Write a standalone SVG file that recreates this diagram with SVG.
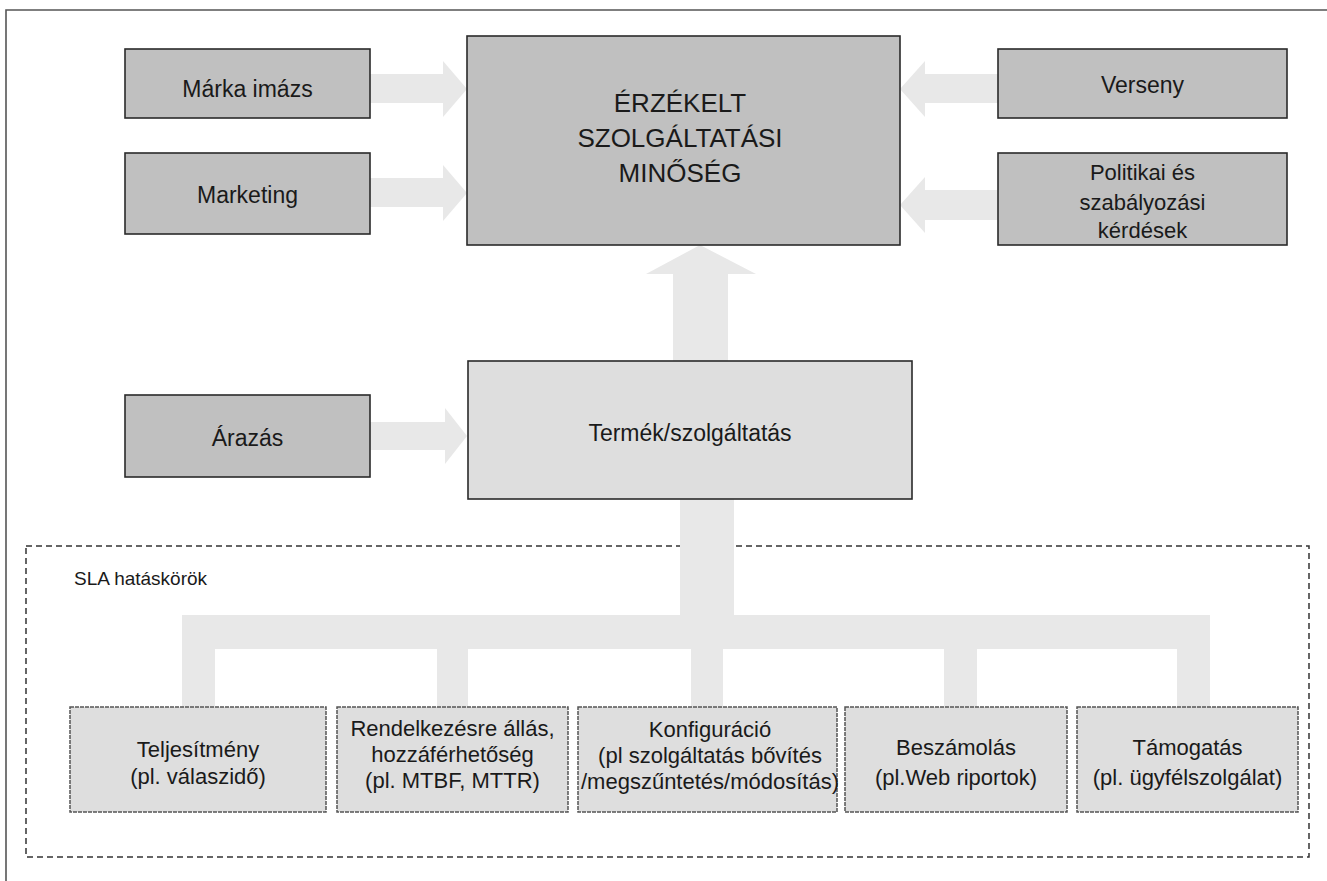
<svg xmlns="http://www.w3.org/2000/svg" width="1327" height="881" viewBox="0 0 1327 881">
<style>
text{font-family:"Liberation Sans",Arial,sans-serif;fill:#1a1a1a;text-anchor:middle}
.dark{fill:#c0c0c0;stroke:#2a2a2a;stroke-width:1.6}
.light{fill:#dedede;stroke:#2a2a2a;stroke-width:1.6}
.sla{fill:#dedede;stroke:#555;stroke-width:1.5;stroke-dasharray:4 1}
.arr{fill:#e8e8e8;stroke:none}
.t23{font-size:23px}
.t22{font-size:22px}
</style>
<rect width="1327" height="881" fill="#fff"/>
<path d="M6,881 V10 H1327" fill="none" stroke="#555" stroke-width="1.6"/>
<rect id="sla-scope" x="26" y="546" width="1283" height="311" fill="none" stroke="#333" stroke-width="1.5" stroke-dasharray="6 4"/>
<text x="74" y="585" style="font-size:19px;text-anchor:start">SLA hatáskörök</text>
<g id="connectors">
<polygon class="arr" points="370,74 443,74 443,61 467,89 443,117 443,103 370,103"/>
<polygon class="arr" points="370,178 443,178 443,165 467,193 443,221 443,207 370,207"/>
<polygon class="arr" points="998,74 925,74 925,61 900,89 925,117 925,103 998,103"/>
<polygon class="arr" points="998,190 925,190 925,177 900,205 925,233 925,220 998,220"/>
<polygon class="arr" points="370,422 445,422 445,408 467,436 445,464 445,450 370,450"/>
<polygon class="arr" points="673,361 673,274 646,274 700,245 756,274 728,274 728,361"/>
<rect class="arr" x="680" y="499" width="54" height="117"/>
<rect class="arr" x="182" y="615" width="1028" height="34"/>
<rect class="arr" x="182" y="648" width="33" height="59"/>
<rect class="arr" x="437" y="648" width="31" height="59"/>
<rect class="arr" x="691" y="648" width="32" height="59"/>
<rect class="arr" x="944" y="648" width="33" height="59"/>
<rect class="arr" x="1177" y="648" width="33" height="59"/>
</g>
<g id="n-marka"><rect class="dark" x="125" y="49" width="245" height="69"/><text class="t23" x="247.5" y="97">Márka imázs</text></g>
<g id="n-marketing"><rect class="dark" x="125" y="153" width="245" height="81"/><text class="t23" x="247.5" y="203">Marketing</text></g>
<g id="n-main"><rect class="dark" x="467" y="36" width="433" height="209"/>
<text x="680" y="112" style="font-size:26px">ÉRZÉKELT</text>
<text x="680" y="147" style="font-size:26px">SZOLGÁLTATÁSI</text>
<text x="680" y="182" style="font-size:26px">MINŐSÉG</text></g>
<g id="n-verseny"><rect class="dark" x="998" y="49" width="289" height="69"/><text class="t23" x="1142.5" y="93">Verseny</text></g>
<g id="n-politikai"><rect class="dark" x="998" y="153" width="289" height="92"/>
<text class="t22" x="1142.5" y="180">Politikai és</text>
<text class="t22" x="1142.5" y="210">szabályozási</text>
<text class="t22" x="1142.5" y="238">kérdések</text></g>
<g id="n-arazas"><rect class="dark" x="125" y="395" width="245" height="82"/><text class="t23" x="247.5" y="446">Árazás</text></g>
<g id="n-termek"><rect class="light" x="468" y="361" width="444" height="138"/><text class="t23" x="690" y="441">Termék/szolgáltatás</text></g>
<g id="n-teljesitmeny"><rect class="sla" x="70" y="707" width="256" height="105"/>
<text class="t22" x="198" y="757">Teljesítmény</text>
<text class="t22" x="198" y="784">(pl. válaszidő)</text></g>
<g id="n-rendelkezes"><rect class="sla" x="337" y="707" width="231" height="105"/>
<text class="t22" x="452.5" y="736">Rendelkezésre állás,</text>
<text class="t22" x="452.5" y="762">hozzáférhetőség</text>
<text class="t22" x="452.5" y="788">(pl. MTBF, MTTR)</text></g>
<g id="n-konfiguracio"><rect class="sla" x="578" y="707" width="259" height="105"/>
<text class="t22" x="710" y="737">Konfiguráció</text>
<text class="t22" x="710" y="763">(pl szolgáltatás bővítés</text>
<text class="t22" x="710" y="789">/megszűntetés/módosítás)</text></g>
<g id="n-beszamolas"><rect class="sla" x="845" y="707" width="222" height="105"/>
<text class="t22" x="956" y="755">Beszámolás</text>
<text class="t22" x="956" y="785">(pl.Web riportok)</text></g>
<g id="n-tamogatas"><rect class="sla" x="1077" y="707" width="221" height="105"/>
<text class="t22" x="1187.5" y="755">Támogatás</text>
<text class="t22" x="1187.5" y="785">(pl. ügyfélszolgálat)</text></g>
</svg>
